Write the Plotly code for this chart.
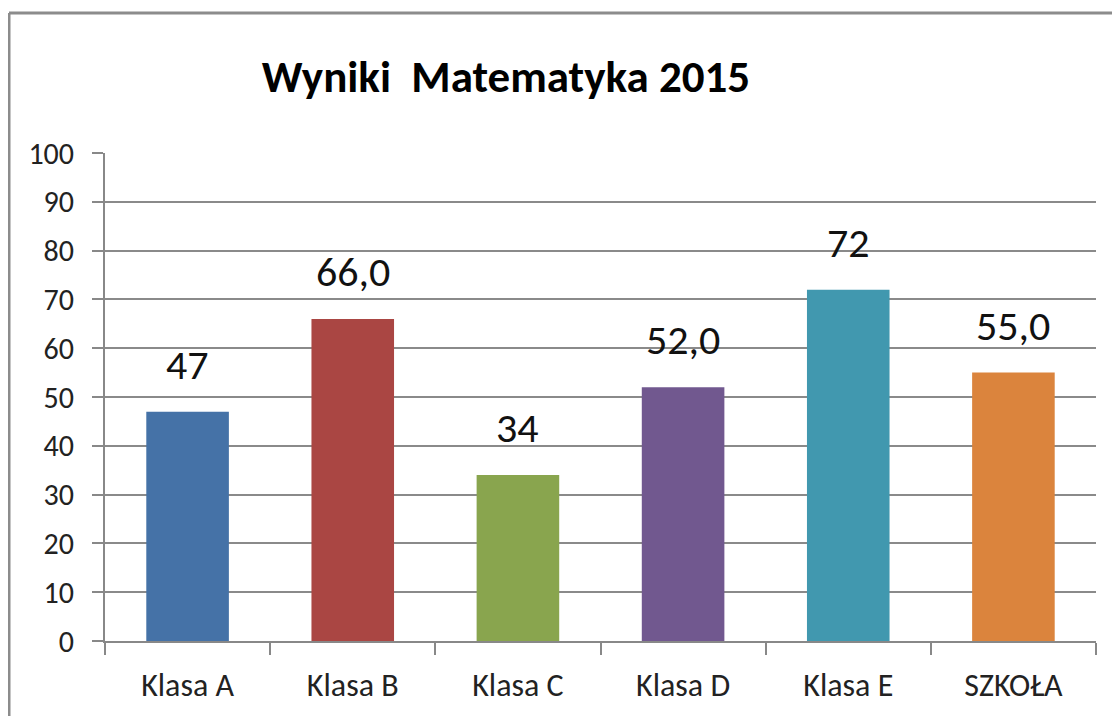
import plotly.graph_objects as go

categories = ["Klasa A", "Klasa B", "Klasa C", "Klasa D", "Klasa E", "SZKOŁA"]
values = [47, 66.0, 34, 52.0, 72, 55.0]
value_labels = ["47", "66,0", "34", "52,0", "72", "55,0"]
colors = ["#4572A7", "#AA4643", "#89A54E", "#71588F", "#4198AF", "#DB843D"]
y_ticks = list(range(0, 101, 10))

# page has an 8px body margin; compensate so the picture lines up
OFF = 8
W, H = 1120 - OFF, 724 - 2 * OFF
PL, PR, PT, PB = 105, 1096, 153, 641          # plot-area edges in window pixels
L, T = PL - OFF, PT - OFF
pw, ph = PR - PL, PB - PT
R = W - L - pw
B = H - T - ph

font_fam = "Carlito, Lato, Open Sans, sans-serif"
title_fam = "Carlito, Lato, sans-serif"

fig = go.Figure()
fig.add_trace(go.Bar(
    x=categories, y=values, marker=dict(color=colors, line=dict(width=0)),
    width=0.5, hoverinfo="skip"))

for c, v, t in zip(categories, values, value_labels):
    fig.add_annotation(x=c, y=v, text=t, showarrow=False, yanchor="bottom",
                       yshift=20, font=dict(family=font_fam, size=42, color="#111"))

def px_x(p):
    return (p - PL) / pw

def px_y(p):
    return (PB - p) / ph

frame_col = "#8c8c8c"
fig.add_shape(type="line", xref="paper", yref="paper",
              x0=px_x(9), x1=px_x(1125), y0=px_y(13), y1=px_y(13),
              line=dict(color=frame_col, width=3))
fig.add_shape(type="line", xref="paper", yref="paper",
              x0=px_x(9), x1=px_x(9), y0=px_y(13), y1=px_y(730),
              line=dict(color=frame_col, width=3))

fig.update_layout(
    width=W, height=H,
    margin=dict(l=L, r=R, t=T, b=B, autoexpand=False),
    paper_bgcolor="white", plot_bgcolor="white",
    showlegend=False, bargap=0.5,
    title=dict(text="<b>Wyniki  Matematyka 2015</b>", xref="paper", x=px_x(506),
               xanchor="center", yref="container", y=1 - (76 - OFF) / H, yanchor="middle",
               font=dict(family=title_fam, size=45, color="#000")),
    xaxis=dict(type="category", tickson="boundaries", ticks="outside", ticklen=12,
               tickcolor="#888", tickwidth=2, showline=True, linecolor="#888", linewidth=2,
               showgrid=False, tickfont=dict(family=font_fam, size=32, color="#222"),
               ticklabelstandoff=15),
    yaxis=dict(range=[0, 100], tickvals=y_ticks, ticks="outside", ticklen=11,
               tickcolor="#888", tickwidth=2, showline=True, linecolor="#888", linewidth=2,
               showgrid=True, gridcolor="#8a8a8a", gridwidth=2, zeroline=False,
               tickfont=dict(family=font_fam, size=30, color="#222"),
               ticklabelstandoff=12),
)

fig.write_html("out.html")
